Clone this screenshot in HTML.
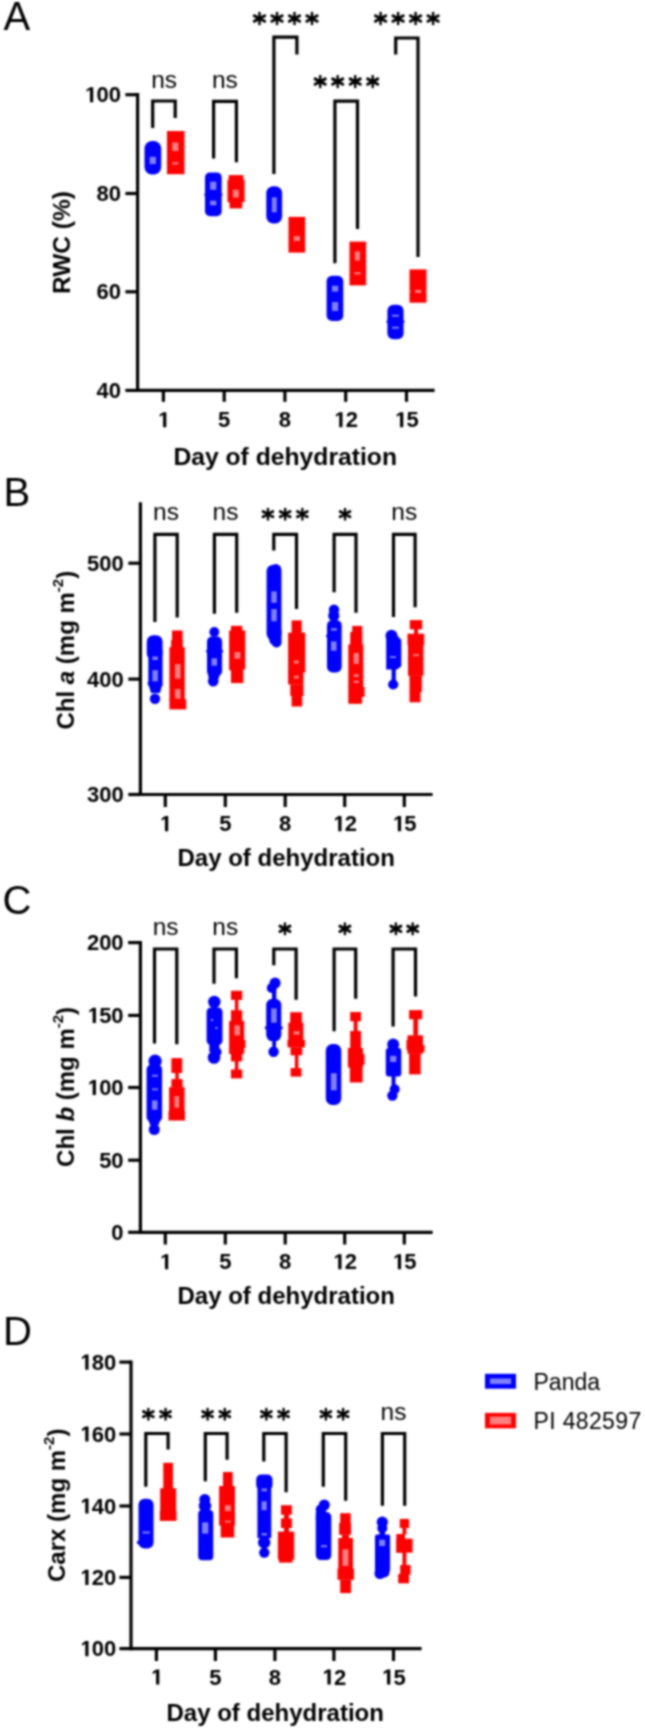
<!DOCTYPE html>
<html><head><meta charset="utf-8"><style>
html,body{margin:0;padding:0;background:#fff;}
svg{display:block;}

text{font-family:"Liberation Sans",sans-serif;fill:#000;}
</style></head><body>
<svg width="645" height="1730" viewBox="0 0 645 1730">
<defs><filter id="soft" filterUnits="userSpaceOnUse" x="0" y="0" width="645" height="1730" color-interpolation-filters="sRGB"><feConvolveMatrix order="5" kernelMatrix="18 82 135 82 18 82 368 607 368 82 135 607 1000 607 135 82 368 607 368 82 18 82 135 82 18" divisor="6168" edgeMode="duplicate"/></filter></defs>
<g filter="url(#soft)"><rect width="645" height="1730" fill="#fff"/>
<line x1="137.6" y1="93.10000000000001" x2="137.6" y2="392.0" stroke="#000" stroke-width="3.2" stroke-linecap="butt"/>
<line x1="137.6" y1="390.4" x2="434.6" y2="390.4" stroke="#000" stroke-width="3.2" stroke-linecap="butt"/>
<line x1="125.4" y1="94.7" x2="137.6" y2="94.7" stroke="#000" stroke-width="3.2" stroke-linecap="butt"/>
<path d="M540,0L840,0L840,1409L575,1409L230,1190L230,975L540,1160Z" fill="#000" transform="translate(84.19,102.3) scale(0.01074,-0.01074)"/>
<text x="96.43" y="102.3" font-size="22" font-weight="bold" text-anchor="start" >0</text>
<text x="108.66" y="102.3" font-size="22" font-weight="bold" text-anchor="start" >0</text>
<line x1="125.4" y1="193.5" x2="137.6" y2="193.5" stroke="#000" stroke-width="3.2" stroke-linecap="butt"/>
<text x="96.43" y="201.1" font-size="22" font-weight="bold" text-anchor="start" >8</text>
<text x="108.66" y="201.1" font-size="22" font-weight="bold" text-anchor="start" >0</text>
<line x1="125.4" y1="291.8" x2="137.6" y2="291.8" stroke="#000" stroke-width="3.2" stroke-linecap="butt"/>
<text x="96.43" y="299.4" font-size="22" font-weight="bold" text-anchor="start" >6</text>
<text x="108.66" y="299.4" font-size="22" font-weight="bold" text-anchor="start" >0</text>
<line x1="125.4" y1="390.4" x2="137.6" y2="390.4" stroke="#000" stroke-width="3.2" stroke-linecap="butt"/>
<text x="96.43" y="398.0" font-size="22" font-weight="bold" text-anchor="start" >4</text>
<text x="108.66" y="398.0" font-size="22" font-weight="bold" text-anchor="start" >0</text>
<line x1="163.4" y1="390.4" x2="163.4" y2="401.8" stroke="#000" stroke-width="3.2" stroke-linecap="butt"/>
<path d="M540,0L840,0L840,1409L575,1409L230,1190L230,975L540,1160Z" fill="#000" transform="translate(157.28,427.3) scale(0.01074,-0.01074)"/>
<line x1="224.2" y1="390.4" x2="224.2" y2="401.8" stroke="#000" stroke-width="3.2" stroke-linecap="butt"/>
<text x="218.08" y="427.3" font-size="22" font-weight="bold" text-anchor="start" >5</text>
<line x1="284.9" y1="390.4" x2="284.9" y2="401.8" stroke="#000" stroke-width="3.2" stroke-linecap="butt"/>
<text x="278.78" y="427.3" font-size="22" font-weight="bold" text-anchor="start" >8</text>
<line x1="345.7" y1="390.4" x2="345.7" y2="401.8" stroke="#000" stroke-width="3.2" stroke-linecap="butt"/>
<path d="M540,0L840,0L840,1409L575,1409L230,1190L230,975L540,1160Z" fill="#000" transform="translate(333.46,427.3) scale(0.01074,-0.01074)"/>
<text x="345.7" y="427.3" font-size="22" font-weight="bold" text-anchor="start" >2</text>
<line x1="406.5" y1="390.4" x2="406.5" y2="401.8" stroke="#000" stroke-width="3.2" stroke-linecap="butt"/>
<path d="M540,0L840,0L840,1409L575,1409L230,1190L230,975L540,1160Z" fill="#000" transform="translate(394.26,427.3) scale(0.01074,-0.01074)"/>
<text x="406.5" y="427.3" font-size="22" font-weight="bold" text-anchor="start" >5</text>
<text x="285.2" y="465.3" font-size="24.7" font-weight="bold" text-anchor="middle" >Day of dehydration</text>
<text x="0" y="0" font-size="24.5" font-weight="bold" text-anchor="middle" transform="translate(69.8,242.6) rotate(-90)">RWC (%)</text>
<text x="3.5" y="30.2" font-size="40" font-weight="normal" text-anchor="start" >A</text>
<text x="164.1" y="87.6" font-size="24.5" font-weight="normal" text-anchor="middle" >ns</text>
<path d="M152.7,128.1V101.0H175.2V118.0" fill="none" stroke="#000" stroke-width="3.2" stroke-linejoin="miter" stroke-linecap="butt"/>
<text x="224.9" y="87.9" font-size="24.5" font-weight="normal" text-anchor="middle" >ns</text>
<path d="M213.6,158.6V101.4H236.4V162.3" fill="none" stroke="#000" stroke-width="3.2" stroke-linejoin="miter" stroke-linecap="butt"/>
<path d="M273.9,173.9V37.2H296.9V54.4" fill="none" stroke="#000" stroke-width="3.2" stroke-linejoin="miter" stroke-linecap="butt"/>
<path d="M259.50,11.90V25.10" stroke="#000" stroke-width="2.43" fill="none"/>
<path d="M254.36,15.77L264.64,21.23M254.36,21.23L264.64,15.77" stroke="#000" stroke-width="3.01" stroke-linecap="round" fill="none"/>
<circle cx="259.50" cy="18.50" r="2.52" fill="#000"/>
<path d="M277.00,11.90V25.10" stroke="#000" stroke-width="2.43" fill="none"/>
<path d="M271.86,15.77L282.14,21.23M271.86,21.23L282.14,15.77" stroke="#000" stroke-width="3.01" stroke-linecap="round" fill="none"/>
<circle cx="277.00" cy="18.50" r="2.52" fill="#000"/>
<path d="M294.50,11.90V25.10" stroke="#000" stroke-width="2.43" fill="none"/>
<path d="M289.36,15.77L299.64,21.23M289.36,21.23L299.64,15.77" stroke="#000" stroke-width="3.01" stroke-linecap="round" fill="none"/>
<circle cx="294.50" cy="18.50" r="2.52" fill="#000"/>
<path d="M312.00,11.90V25.10" stroke="#000" stroke-width="2.43" fill="none"/>
<path d="M306.86,15.77L317.14,21.23M306.86,21.23L317.14,15.77" stroke="#000" stroke-width="3.01" stroke-linecap="round" fill="none"/>
<circle cx="312.00" cy="18.50" r="2.52" fill="#000"/>
<path d="M334.9,263.3V101.2H357.5V228.9" fill="none" stroke="#000" stroke-width="3.2" stroke-linejoin="miter" stroke-linecap="butt"/>
<path d="M320.20,75.10V88.10" stroke="#000" stroke-width="2.39" fill="none"/>
<path d="M315.14,78.91L325.26,84.29M315.14,84.29L325.26,78.91" stroke="#000" stroke-width="2.96" stroke-linecap="round" fill="none"/>
<circle cx="320.20" cy="81.60" r="2.49" fill="#000"/>
<path d="M337.70,75.10V88.10" stroke="#000" stroke-width="2.39" fill="none"/>
<path d="M332.64,78.91L342.76,84.29M332.64,84.29L342.76,78.91" stroke="#000" stroke-width="2.96" stroke-linecap="round" fill="none"/>
<circle cx="337.70" cy="81.60" r="2.49" fill="#000"/>
<path d="M355.20,75.10V88.10" stroke="#000" stroke-width="2.39" fill="none"/>
<path d="M350.14,78.91L360.26,84.29M350.14,84.29L360.26,78.91" stroke="#000" stroke-width="2.96" stroke-linecap="round" fill="none"/>
<circle cx="355.20" cy="81.60" r="2.49" fill="#000"/>
<path d="M372.70,75.10V88.10" stroke="#000" stroke-width="2.39" fill="none"/>
<path d="M367.64,78.91L377.76,84.29M367.64,84.29L377.76,78.91" stroke="#000" stroke-width="2.96" stroke-linecap="round" fill="none"/>
<circle cx="372.70" cy="81.60" r="2.49" fill="#000"/>
<path d="M395.7,54.4V38.0H418.0V256.9" fill="none" stroke="#000" stroke-width="3.2" stroke-linejoin="miter" stroke-linecap="butt"/>
<path d="M380.60,11.90V25.10" stroke="#000" stroke-width="2.43" fill="none"/>
<path d="M375.46,15.77L385.74,21.23M375.46,21.23L385.74,15.77" stroke="#000" stroke-width="3.01" stroke-linecap="round" fill="none"/>
<circle cx="380.60" cy="18.50" r="2.52" fill="#000"/>
<path d="M398.10,11.90V25.10" stroke="#000" stroke-width="2.43" fill="none"/>
<path d="M392.96,15.77L403.24,21.23M392.96,21.23L403.24,15.77" stroke="#000" stroke-width="3.01" stroke-linecap="round" fill="none"/>
<circle cx="398.10" cy="18.50" r="2.52" fill="#000"/>
<path d="M415.60,11.90V25.10" stroke="#000" stroke-width="2.43" fill="none"/>
<path d="M410.46,15.77L420.74,21.23M410.46,21.23L420.74,15.77" stroke="#000" stroke-width="3.01" stroke-linecap="round" fill="none"/>
<circle cx="415.60" cy="18.50" r="2.52" fill="#000"/>
<path d="M433.10,11.90V25.10" stroke="#000" stroke-width="2.43" fill="none"/>
<path d="M427.96,15.77L438.24,21.23M427.96,21.23L438.24,15.77" stroke="#000" stroke-width="3.01" stroke-linecap="round" fill="none"/>
<circle cx="433.10" cy="18.50" r="2.52" fill="#000"/>
<rect x="144.5" y="141" width="16.7" height="33.5" rx="7.5" ry="7.5" fill="#0000ff"/>
<rect x="149.7" y="156.8" width="6.2" height="7.3" rx="0" fill="#8080ff"/>
<rect x="167" y="131" width="17.5" height="43.2" rx="0" fill="#ff0000"/>
<rect x="172.3" y="142.5" width="6.0" height="8.5" rx="0" fill="#ff8080"/>
<rect x="172.3" y="162.2" width="6.0" height="2.3" rx="0" fill="#ff8080"/>
<rect x="205" y="172.4" width="16.7" height="43.8" rx="5" ry="5" fill="#0000ff"/>
<circle cx="205.6" cy="194.8" r="1.4" fill="#0000ff"/>
<circle cx="221.1" cy="194.8" r="1.4" fill="#0000ff"/>
<rect x="210.1" y="181.7" width="6.2" height="8.1" rx="0" fill="#8080ff"/>
<rect x="210.1" y="200.7" width="6.2" height="4.6" rx="0" fill="#8080ff"/>
<rect x="228.7" y="175.1" width="14.7" height="4.9" rx="0" fill="#ff0000"/>
<rect x="227.5" y="179.7" width="17.1" height="22.5" rx="0" fill="#ff0000"/>
<rect x="229.5" y="202" width="12.7" height="6.4" rx="0" fill="#ff0000"/>
<rect x="233" y="189.8" width="5.8" height="7.8" rx="0" fill="#ff8080"/>
<rect x="266.3" y="186.3" width="15.8" height="37.2" rx="7" ry="7" fill="#0000ff"/>
<rect x="271.9" y="197.4" width="4.8" height="14.9" rx="0" fill="#8080ff"/>
<rect x="288.5" y="216.9" width="16.7" height="35.7" rx="0" fill="#ff0000"/>
<rect x="293.8" y="236.2" width="6.2" height="4.8" rx="0" fill="#ff8080"/>
<rect x="326.6" y="275.7" width="16.7" height="45.2" rx="5.5" ry="5.5" fill="#0000ff"/>
<rect x="332" y="285.8" width="6.2" height="5.8" rx="0" fill="#8080ff"/>
<rect x="332" y="302.1" width="6.2" height="8.9" rx="0" fill="#8080ff"/>
<rect x="349.5" y="241.6" width="16.6" height="43.8" rx="0" fill="#ff0000"/>
<rect x="354.9" y="251.3" width="5.0" height="9.3" rx="0" fill="#ff8080"/>
<rect x="354.3" y="272.2" width="6.3" height="2.3" rx="0" fill="#ff8080"/>
<rect x="387.4" y="304.8" width="16.2" height="34.4" rx="6" ry="6" fill="#0000ff"/>
<circle cx="387.7" cy="321.7" r="1.3" fill="#0000ff"/>
<circle cx="403.3" cy="321.7" r="1.3" fill="#0000ff"/>
<rect x="392" y="314.7" width="7" height="2.0" rx="0" fill="#8080ff"/>
<rect x="392" y="326.7" width="7" height="2.0" rx="0" fill="#8080ff"/>
<rect x="409.5" y="269.4" width="17.0" height="33.3" rx="0" fill="#ff0000"/>
<rect x="415.3" y="289.9" width="5.8" height="3.1" rx="0" fill="#ff8080"/>
<rect x="409.5" y="290.5" width="1.1" height="1.8" rx="0" fill="#ff8080"/>
<rect x="425.4" y="290.5" width="1.1" height="1.8" rx="0" fill="#ff8080"/>
<line x1="140.4" y1="502.29999999999995" x2="140.4" y2="796.1" stroke="#000" stroke-width="3.2" stroke-linecap="butt"/>
<line x1="140.4" y1="794.5" x2="432.6" y2="794.5" stroke="#000" stroke-width="3.2" stroke-linecap="butt"/>
<line x1="128.3" y1="563.2" x2="140.4" y2="563.2" stroke="#000" stroke-width="3.2" stroke-linecap="butt"/>
<text x="87.09" y="570.8" font-size="22" font-weight="bold" text-anchor="start" >5</text>
<text x="99.33" y="570.8" font-size="22" font-weight="bold" text-anchor="start" >0</text>
<text x="111.56" y="570.8" font-size="22" font-weight="bold" text-anchor="start" >0</text>
<line x1="128.3" y1="679.1" x2="140.4" y2="679.1" stroke="#000" stroke-width="3.2" stroke-linecap="butt"/>
<text x="87.09" y="686.7" font-size="22" font-weight="bold" text-anchor="start" >4</text>
<text x="99.33" y="686.7" font-size="22" font-weight="bold" text-anchor="start" >0</text>
<text x="111.56" y="686.7" font-size="22" font-weight="bold" text-anchor="start" >0</text>
<line x1="128.3" y1="794.5" x2="140.4" y2="794.5" stroke="#000" stroke-width="3.2" stroke-linecap="butt"/>
<text x="87.09" y="802.1" font-size="22" font-weight="bold" text-anchor="start" >3</text>
<text x="99.33" y="802.1" font-size="22" font-weight="bold" text-anchor="start" >0</text>
<text x="111.56" y="802.1" font-size="22" font-weight="bold" text-anchor="start" >0</text>
<line x1="165.3" y1="794.5" x2="165.3" y2="807" stroke="#000" stroke-width="3.2" stroke-linecap="butt"/>
<path d="M540,0L840,0L840,1409L575,1409L230,1190L230,975L540,1160Z" fill="#000" transform="translate(159.18,831.2) scale(0.01074,-0.01074)"/>
<line x1="225.3" y1="794.5" x2="225.3" y2="807" stroke="#000" stroke-width="3.2" stroke-linecap="butt"/>
<text x="219.18" y="831.2" font-size="22" font-weight="bold" text-anchor="start" >5</text>
<line x1="285.2" y1="794.5" x2="285.2" y2="807" stroke="#000" stroke-width="3.2" stroke-linecap="butt"/>
<text x="279.08" y="831.2" font-size="22" font-weight="bold" text-anchor="start" >8</text>
<line x1="344.7" y1="794.5" x2="344.7" y2="807" stroke="#000" stroke-width="3.2" stroke-linecap="butt"/>
<path d="M540,0L840,0L840,1409L575,1409L230,1190L230,975L540,1160Z" fill="#000" transform="translate(332.46,831.2) scale(0.01074,-0.01074)"/>
<text x="344.7" y="831.2" font-size="22" font-weight="bold" text-anchor="start" >2</text>
<line x1="404.3" y1="794.5" x2="404.3" y2="807" stroke="#000" stroke-width="3.2" stroke-linecap="butt"/>
<path d="M540,0L840,0L840,1409L575,1409L230,1190L230,975L540,1160Z" fill="#000" transform="translate(392.06,831.2) scale(0.01074,-0.01074)"/>
<text x="404.3" y="831.2" font-size="22" font-weight="bold" text-anchor="start" >5</text>
<text x="286.2" y="866.2" font-size="24" font-weight="bold" text-anchor="middle" >Day of dehydration</text>
<text x="0" y="0" font-size="24" font-weight="bold" text-anchor="middle" transform="translate(73.8,650.2) rotate(-90)">Chl <tspan font-style="italic">a</tspan> (mg m<tspan font-size="15" dy="-11">-2</tspan><tspan dy="11">)</tspan></text>
<text x="3.5" y="506" font-size="40" font-weight="normal" text-anchor="start" >B</text>
<path d="M154.9,622.1V534.3H177.2V617.4" fill="none" stroke="#000" stroke-width="3.2" stroke-linejoin="miter" stroke-linecap="butt"/>
<text x="166.05" y="520.0" font-size="24.5" font-weight="normal" text-anchor="middle" >ns</text>
<path d="M214.4,613.7V534.3H236.7V612.8" fill="none" stroke="#000" stroke-width="3.2" stroke-linejoin="miter" stroke-linecap="butt"/>
<text x="225.55" y="520.0" font-size="24.5" font-weight="normal" text-anchor="middle" >ns</text>
<path d="M273.8,550.5V534.3H296.5V609.1" fill="none" stroke="#000" stroke-width="3.2" stroke-linejoin="miter" stroke-linecap="butt"/>
<path d="M267.95,507.90V520.50" stroke="#000" stroke-width="2.32" fill="none"/>
<path d="M263.04,511.59L272.86,516.81M263.04,516.81L272.86,511.59" stroke="#000" stroke-width="2.87" stroke-linecap="round" fill="none"/>
<circle cx="267.95" cy="514.20" r="2.41" fill="#000"/>
<path d="M285.15,507.90V520.50" stroke="#000" stroke-width="2.32" fill="none"/>
<path d="M280.24,511.59L290.06,516.81M280.24,516.81L290.06,511.59" stroke="#000" stroke-width="2.87" stroke-linecap="round" fill="none"/>
<circle cx="285.15" cy="514.20" r="2.41" fill="#000"/>
<path d="M302.35,507.90V520.50" stroke="#000" stroke-width="2.32" fill="none"/>
<path d="M297.44,511.59L307.26,516.81M297.44,516.81L307.26,511.59" stroke="#000" stroke-width="2.87" stroke-linecap="round" fill="none"/>
<circle cx="302.35" cy="514.20" r="2.41" fill="#000"/>
<path d="M334.1,592.3V534.3H356.0V612.8" fill="none" stroke="#000" stroke-width="3.2" stroke-linejoin="miter" stroke-linecap="butt"/>
<path d="M345.05,507.90V520.50" stroke="#000" stroke-width="2.32" fill="none"/>
<path d="M340.14,511.59L349.96,516.81M340.14,516.81L349.96,511.59" stroke="#000" stroke-width="2.87" stroke-linecap="round" fill="none"/>
<circle cx="345.05" cy="514.20" r="2.41" fill="#000"/>
<path d="M393.5,617.0V534.3H415.1V607.2" fill="none" stroke="#000" stroke-width="3.2" stroke-linejoin="miter" stroke-linecap="butt"/>
<text x="404.3" y="520.0" font-size="24.5" font-weight="normal" text-anchor="middle" >ns</text>
<rect x="146.8" y="635.2" width="15.8" height="24.8" rx="6.5" ry="6.5" fill="#0000ff"/>
<rect x="148.3" y="650" width="14.3" height="36" rx="0" fill="#0000ff"/>
<circle cx="149" cy="683" r="1.5" fill="#0000ff"/>
<polygon points="148.3,684 162.4,684 160,693 151,693" fill="#0000ff"/>
<circle cx="155" cy="698.7" r="5.2" fill="#0000ff"/>
<rect x="152.4" y="656.5" width="5.5" height="3.5" rx="0" fill="#8080ff"/>
<rect x="152.4" y="670.2" width="5.5" height="11.1" rx="0" fill="#8080ff"/>
<rect x="172" y="630.5" width="10.6" height="17.5" rx="0" fill="#ff0000"/>
<rect x="171.1" y="640" width="11.5" height="8" rx="0" fill="#ff0000"/>
<rect x="169.4" y="647.2" width="15.4" height="52.8" rx="0" fill="#ff0000"/>
<rect x="169.4" y="699.2" width="16.8" height="10.2" rx="0" fill="#ff0000"/>
<rect x="175" y="664.2" width="5.5" height="14.5" rx="0" fill="#ff8080"/>
<rect x="175" y="689" width="5.5" height="9.7" rx="0" fill="#ff8080"/>
<circle cx="214.3" cy="632" r="4.9" fill="#0000ff"/>
<rect x="207" y="636.6" width="15.1" height="39.4" rx="5" ry="5" fill="#0000ff"/>
<circle cx="207.2" cy="651.3" r="1.3" fill="#0000ff"/>
<circle cx="221.9" cy="651.3" r="1.3" fill="#0000ff"/>
<circle cx="213.2" cy="681.3" r="5.3" fill="#0000ff"/>
<polygon points="207.5,672 221,672 218,680 209,680" fill="#0000ff"/>
<rect x="211.6" y="658.3" width="5.4" height="7.4" rx="0" fill="#8080ff"/>
<rect x="231" y="625.8" width="11.2" height="5.2" rx="0" fill="#ff0000"/>
<rect x="229.1" y="630.4" width="16.2" height="39.1" rx="0" fill="#ff0000"/>
<rect x="231" y="669" width="12.4" height="14.1" rx="0" fill="#ff0000"/>
<rect x="229.6" y="666" width="2.4" height="4.5" rx="0" fill="#ff0000"/>
<rect x="234.5" y="652.1" width="5.8" height="6.6" rx="0" fill="#ff8080"/>
<circle cx="275.6" cy="569.5" r="5.6" fill="#0000ff"/>
<rect x="266.6" y="565" width="14.9" height="75" rx="6" ry="6" fill="#0000ff"/>
<polygon points="266.8,630 281.5,630 281.5,642 277,647.6 270,643" fill="#0000ff"/>
<circle cx="276.5" cy="642.5" r="5" fill="#0000ff"/>
<rect x="271.4" y="591.4" width="5.3" height="11.4" rx="0" fill="#8080ff"/>
<rect x="271.4" y="609" width="5.3" height="12.3" rx="0" fill="#8080ff"/>
<rect x="291.6" y="620.4" width="10.1" height="12.6" rx="0" fill="#ff0000"/>
<rect x="288.1" y="632.7" width="17.2" height="39.8" rx="0" fill="#ff0000"/>
<rect x="288.1" y="672" width="15.4" height="12.5" rx="0" fill="#ff0000"/>
<rect x="290.3" y="684.3" width="13.2" height="11.7" rx="0" fill="#ff0000"/>
<rect x="291.6" y="695.8" width="10.6" height="10.7" rx="0" fill="#ff0000"/>
<rect x="294" y="660.6" width="4.8" height="3.0" rx="0" fill="#ff8080"/>
<rect x="294" y="675.6" width="4.8" height="3.0" rx="0" fill="#ff8080"/>
<circle cx="334" cy="609.8" r="5.2" fill="#0000ff"/>
<circle cx="333.8" cy="615.8" r="5.6" fill="#0000ff"/>
<rect x="327" y="620" width="14.7" height="52.4" rx="5.5" ry="5.5" fill="#0000ff"/>
<circle cx="327.2" cy="636" r="1.3" fill="#0000ff"/>
<rect x="331" y="628.2" width="6" height="2.4" rx="0" fill="#8080ff"/>
<rect x="331" y="641.4" width="5.5" height="9.3" rx="0" fill="#8080ff"/>
<rect x="352.2" y="625.9" width="10.0" height="19.1" rx="0" fill="#ff0000"/>
<rect x="350.2" y="632" width="12.0" height="13" rx="0" fill="#ff0000"/>
<rect x="348.3" y="644.5" width="15.1" height="43.5" rx="0" fill="#ff0000"/>
<rect x="348.3" y="687" width="16.3" height="10" rx="0" fill="#ff0000"/>
<rect x="348.3" y="696.5" width="13.7" height="7.3" rx="0" fill="#ff0000"/>
<rect x="353.7" y="653" width="5.1" height="10.9" rx="0" fill="#ff8080"/>
<rect x="353.7" y="674.2" width="5.1" height="2.8" rx="0" fill="#ff8080"/>
<rect x="353.7" y="680.6" width="5.1" height="2.4" rx="0" fill="#ff8080"/>
<circle cx="391.5" cy="635.8" r="6" fill="#0000ff"/>
<polygon points="386.2,636 392,630 401.3,640 401.3,666.3 397,669.5 386.2,669.5" fill="#0000ff"/>
<line x1="393.7" y1="666" x2="393.7" y2="684" stroke="#0000ff" stroke-width="2.2" stroke-linecap="butt"/>
<line x1="393.7" y1="666" x2="393.7" y2="684" stroke="#0000ff" stroke-width="4.2" stroke-linecap="butt"/>
<circle cx="393.2" cy="684.5" r="5.1" fill="#0000ff"/>
<rect x="390" y="656.2" width="6" height="1.8" rx="0" fill="#8080ff"/>
<rect x="409.8" y="620.1" width="12.4" height="9.2" rx="0" fill="#ff0000"/>
<rect x="414.1" y="628.8" width="3.9" height="5.4" rx="0" fill="#ff0000"/>
<rect x="407.5" y="633.7" width="16.7" height="11.3" rx="0" fill="#ff0000"/>
<rect x="408" y="644.5" width="15.5" height="31.3" rx="0" fill="#ff0000"/>
<rect x="409.5" y="675.5" width="12.4" height="16.5" rx="0" fill="#ff0000"/>
<rect x="409.5" y="691.5" width="11.0" height="10.8" rx="0" fill="#ff0000"/>
<rect x="413" y="654.2" width="6" height="2.0" rx="0" fill="#ff8080"/>
<line x1="140.4" y1="941.0" x2="140.4" y2="1233.8999999999999" stroke="#000" stroke-width="3.2" stroke-linecap="butt"/>
<line x1="140.4" y1="1232.3" x2="432.6" y2="1232.3" stroke="#000" stroke-width="3.2" stroke-linecap="butt"/>
<line x1="128.1" y1="942.6" x2="140.4" y2="942.6" stroke="#000" stroke-width="3.2" stroke-linecap="butt"/>
<text x="86.89" y="950.2" font-size="22" font-weight="bold" text-anchor="start" >2</text>
<text x="99.13" y="950.2" font-size="22" font-weight="bold" text-anchor="start" >0</text>
<text x="111.36" y="950.2" font-size="22" font-weight="bold" text-anchor="start" >0</text>
<line x1="128.1" y1="1015.4" x2="140.4" y2="1015.4" stroke="#000" stroke-width="3.2" stroke-linecap="butt"/>
<path d="M540,0L840,0L840,1409L575,1409L230,1190L230,975L540,1160Z" fill="#000" transform="translate(86.89,1023.0) scale(0.01074,-0.01074)"/>
<text x="99.13" y="1023.0" font-size="22" font-weight="bold" text-anchor="start" >5</text>
<text x="111.36" y="1023.0" font-size="22" font-weight="bold" text-anchor="start" >0</text>
<line x1="128.1" y1="1087.5" x2="140.4" y2="1087.5" stroke="#000" stroke-width="3.2" stroke-linecap="butt"/>
<path d="M540,0L840,0L840,1409L575,1409L230,1190L230,975L540,1160Z" fill="#000" transform="translate(86.89,1095.1) scale(0.01074,-0.01074)"/>
<text x="99.13" y="1095.1" font-size="22" font-weight="bold" text-anchor="start" >0</text>
<text x="111.36" y="1095.1" font-size="22" font-weight="bold" text-anchor="start" >0</text>
<line x1="128.1" y1="1160.2" x2="140.4" y2="1160.2" stroke="#000" stroke-width="3.2" stroke-linecap="butt"/>
<text x="99.13" y="1167.8" font-size="22" font-weight="bold" text-anchor="start" >5</text>
<text x="111.36" y="1167.8" font-size="22" font-weight="bold" text-anchor="start" >0</text>
<line x1="128.1" y1="1232.3" x2="140.4" y2="1232.3" stroke="#000" stroke-width="3.2" stroke-linecap="butt"/>
<text x="111.36" y="1239.9" font-size="22" font-weight="bold" text-anchor="start" >0</text>
<line x1="165.3" y1="1232.3" x2="165.3" y2="1244.5" stroke="#000" stroke-width="3.2" stroke-linecap="butt"/>
<path d="M540,0L840,0L840,1409L575,1409L230,1190L230,975L540,1160Z" fill="#000" transform="translate(159.18,1269.3) scale(0.01074,-0.01074)"/>
<line x1="225.3" y1="1232.3" x2="225.3" y2="1244.5" stroke="#000" stroke-width="3.2" stroke-linecap="butt"/>
<text x="219.18" y="1269.3" font-size="22" font-weight="bold" text-anchor="start" >5</text>
<line x1="285.2" y1="1232.3" x2="285.2" y2="1244.5" stroke="#000" stroke-width="3.2" stroke-linecap="butt"/>
<text x="279.08" y="1269.3" font-size="22" font-weight="bold" text-anchor="start" >8</text>
<line x1="344.7" y1="1232.3" x2="344.7" y2="1244.5" stroke="#000" stroke-width="3.2" stroke-linecap="butt"/>
<path d="M540,0L840,0L840,1409L575,1409L230,1190L230,975L540,1160Z" fill="#000" transform="translate(332.46,1269.3) scale(0.01074,-0.01074)"/>
<text x="344.7" y="1269.3" font-size="22" font-weight="bold" text-anchor="start" >2</text>
<line x1="404.3" y1="1232.3" x2="404.3" y2="1244.5" stroke="#000" stroke-width="3.2" stroke-linecap="butt"/>
<path d="M540,0L840,0L840,1409L575,1409L230,1190L230,975L540,1160Z" fill="#000" transform="translate(392.06,1269.3) scale(0.01074,-0.01074)"/>
<text x="404.3" y="1269.3" font-size="22" font-weight="bold" text-anchor="start" >5</text>
<text x="286.2" y="1304.3" font-size="24" font-weight="bold" text-anchor="middle" >Day of dehydration</text>
<text x="0" y="0" font-size="24" font-weight="bold" text-anchor="middle" transform="translate(73.8,1086.9) rotate(-90)">Chl <tspan font-style="italic">b</tspan> (mg m<tspan font-size="15" dy="-11">-2</tspan><tspan dy="11">)</tspan></text>
<text x="2.5" y="913.5" font-size="40" font-weight="normal" text-anchor="start" >C</text>
<path d="M154.5,1043.4V949.0H176.8V1044.3" fill="none" stroke="#000" stroke-width="3.2" stroke-linejoin="miter" stroke-linecap="butt"/>
<text x="165.65" y="934.5" font-size="24.5" font-weight="normal" text-anchor="middle" >ns</text>
<path d="M214.0,983.8V949.0H236.4V978.3" fill="none" stroke="#000" stroke-width="3.2" stroke-linejoin="miter" stroke-linecap="butt"/>
<text x="225.2" y="934.5" font-size="24.5" font-weight="normal" text-anchor="middle" >ns</text>
<path d="M273.8,965.2V949.0H296.1V999.7" fill="none" stroke="#000" stroke-width="3.2" stroke-linejoin="miter" stroke-linecap="butt"/>
<path d="M284.95,922.40V935.20" stroke="#000" stroke-width="2.35" fill="none"/>
<path d="M279.96,926.15L289.94,931.45M279.96,931.45L289.94,926.15" stroke="#000" stroke-width="2.92" stroke-linecap="round" fill="none"/>
<circle cx="284.95" cy="928.80" r="2.45" fill="#000"/>
<path d="M334.1,1031.3V949.0H355.7V998.7" fill="none" stroke="#000" stroke-width="3.2" stroke-linejoin="miter" stroke-linecap="butt"/>
<path d="M344.90,922.40V935.20" stroke="#000" stroke-width="2.35" fill="none"/>
<path d="M339.91,926.15L349.89,931.45M339.91,931.45L349.89,926.15" stroke="#000" stroke-width="2.92" stroke-linecap="round" fill="none"/>
<circle cx="344.90" cy="928.80" r="2.45" fill="#000"/>
<path d="M393.1,1026.6V949.0H415.5V996.6" fill="none" stroke="#000" stroke-width="3.2" stroke-linejoin="miter" stroke-linecap="butt"/>
<path d="M395.90,922.40V935.20" stroke="#000" stroke-width="2.35" fill="none"/>
<path d="M390.91,926.15L400.89,931.45M390.91,931.45L400.89,926.15" stroke="#000" stroke-width="2.92" stroke-linecap="round" fill="none"/>
<circle cx="395.90" cy="928.80" r="2.45" fill="#000"/>
<path d="M412.70,922.40V935.20" stroke="#000" stroke-width="2.35" fill="none"/>
<path d="M407.71,926.15L417.69,931.45M407.71,931.45L417.69,926.15" stroke="#000" stroke-width="2.92" stroke-linecap="round" fill="none"/>
<circle cx="412.70" cy="928.80" r="2.45" fill="#000"/>
<circle cx="155.1" cy="1061.2" r="6.6" fill="#0000ff"/>
<rect x="146.6" y="1064.5" width="15.5" height="57.5" rx="5" ry="5" fill="#0000ff"/>
<polygon points="148,1118 161,1118 158.5,1125 150,1125" fill="#0000ff"/>
<circle cx="154.3" cy="1129.5" r="5.5" fill="#0000ff"/>
<rect x="152" y="1074.8" width="6" height="1.9" rx="0" fill="#8080ff"/>
<rect x="152" y="1088.4" width="6" height="1.9" rx="0" fill="#8080ff"/>
<rect x="152" y="1100.4" width="5.5" height="9.3" rx="0" fill="#8080ff"/>
<rect x="171.4" y="1058.1" width="10.8" height="14.9" rx="0" fill="#ff0000"/>
<rect x="175.3" y="1072.5" width="3.5" height="7.0" rx="0" fill="#ff0000"/>
<rect x="171.4" y="1079.1" width="11.2" height="8.5" rx="0" fill="#ff0000"/>
<rect x="169.1" y="1087.2" width="15.5" height="24.3" rx="0" fill="#ff0000"/>
<rect x="168.5" y="1111" width="16.5" height="9.5" rx="0" fill="#ff0000"/>
<rect x="174.5" y="1096.1" width="4.6" height="11.7" rx="0" fill="#ff8080"/>
<circle cx="214.3" cy="1002" r="6.2" fill="#0000ff"/>
<rect x="206.6" y="1007.5" width="15.9" height="37.5" rx="4.5" ry="4.5" fill="#0000ff"/>
<rect x="209.3" y="1040" width="10.1" height="12" rx="0" fill="#0000ff"/>
<circle cx="214" cy="1057.5" r="6.3" fill="#0000ff"/>
<circle cx="217.5" cy="1052" r="4" fill="#0000ff"/>
<rect x="210.8" y="1019" width="2.4" height="2" rx="0" fill="#8080ff"/>
<rect x="215.3" y="1027" width="2.4" height="2" rx="0" fill="#8080ff"/>
<rect x="231" y="990.8" width="11.2" height="9.1" rx="0" fill="#ff0000"/>
<rect x="234.9" y="999.5" width="3.5" height="11.0" rx="0" fill="#ff0000"/>
<rect x="231" y="1010.2" width="11.2" height="11.0" rx="0" fill="#ff0000"/>
<rect x="229.1" y="1021" width="15.1" height="33" rx="0" fill="#ff0000"/>
<rect x="243" y="1040" width="2.5" height="8" rx="0" fill="#ff0000"/>
<rect x="231" y="1053.5" width="11.2" height="7.9" rx="0" fill="#ff0000"/>
<rect x="234.9" y="1061" width="3.5" height="9" rx="0" fill="#ff0000"/>
<rect x="231" y="1069.5" width="11.2" height="8.9" rx="0" fill="#ff0000"/>
<rect x="234.5" y="1025.3" width="5.4" height="10.1" rx="0" fill="#ff8080"/>
<circle cx="275.1" cy="983" r="5.5" fill="#0000ff"/>
<circle cx="271.8" cy="988" r="5" fill="#0000ff"/>
<rect x="272" y="990" width="4.3" height="11" rx="0" fill="#0000ff"/>
<rect x="266.2" y="998.7" width="15.1" height="42.6" rx="6.5" ry="6.5" fill="#0000ff"/>
<circle cx="266.2" cy="1027.8" r="1.5" fill="#0000ff"/>
<circle cx="281.3" cy="1027.8" r="1.5" fill="#0000ff"/>
<rect x="272.3" y="1038" width="3.7" height="12" rx="0" fill="#0000ff"/>
<circle cx="273.6" cy="1051.8" r="5.2" fill="#0000ff"/>
<rect x="271.2" y="1008.4" width="5.5" height="14.3" rx="0" fill="#8080ff"/>
<rect x="290.2" y="1012.2" width="11.7" height="10.8" rx="0" fill="#ff0000"/>
<rect x="288.3" y="1022.7" width="15.1" height="24.8" rx="0" fill="#ff0000"/>
<rect x="287.5" y="1039.8" width="17.5" height="7.2" rx="0" fill="#ff0000"/>
<rect x="290.6" y="1047.3" width="11.6" height="8.0" rx="0" fill="#ff0000"/>
<rect x="294.9" y="1055" width="3.5" height="13.5" rx="0" fill="#ff0000"/>
<rect x="290.6" y="1068.1" width="10.9" height="8.5" rx="0" fill="#ff0000"/>
<rect x="293.7" y="1031.2" width="5.8" height="3.5" rx="0" fill="#ff8080"/>
<rect x="325.8" y="1044.1" width="15.5" height="60.9" rx="6.5" ry="6.5" fill="#0000ff"/>
<rect x="330.9" y="1073.2" width="5.8" height="17.1" rx="0" fill="#8080ff"/>
<rect x="350.2" y="1012" width="10.9" height="9.2" rx="0" fill="#ff0000"/>
<rect x="353.7" y="1020.5" width="3.9" height="11.0" rx="0" fill="#ff0000"/>
<rect x="350.2" y="1031" width="10.9" height="17.5" rx="0" fill="#ff0000"/>
<rect x="347.9" y="1048" width="15.1" height="19.5" rx="0" fill="#ff0000"/>
<rect x="362" y="1054" width="2.5" height="11" rx="0" fill="#ff0000"/>
<rect x="349.8" y="1067" width="12.8" height="15.5" rx="0" fill="#ff0000"/>
<circle cx="393.2" cy="1044.6" r="6" fill="#0000ff"/>
<rect x="385.8" y="1048" width="15.5" height="28.4" rx="3" ry="3" fill="#0000ff"/>
<rect x="391.6" y="1075" width="3.9" height="13" rx="0" fill="#0000ff"/>
<circle cx="394.7" cy="1089.3" r="5" fill="#0000ff"/>
<circle cx="392.4" cy="1095.6" r="5.2" fill="#0000ff"/>
<rect x="390.1" y="1055.8" width="6.2" height="6.2" rx="0" fill="#8080ff"/>
<rect x="409.1" y="1010.1" width="13.1" height="9.1" rx="0" fill="#ff0000"/>
<rect x="413.3" y="1018.8" width="4.7" height="16.8" rx="0" fill="#ff0000"/>
<rect x="407.5" y="1035.3" width="15.5" height="18.5" rx="0" fill="#ff0000"/>
<rect x="422" y="1045" width="2.5" height="7" rx="0" fill="#ff0000"/>
<rect x="406.5" y="1040" width="1.5" height="10" rx="0" fill="#ff0000"/>
<rect x="409.1" y="1053.5" width="11.6" height="20.9" rx="0" fill="#ff0000"/>
<line x1="131.0" y1="1360.5" x2="131.0" y2="1650.1999999999998" stroke="#000" stroke-width="3.2" stroke-linecap="butt"/>
<line x1="131.0" y1="1648.6" x2="421.6" y2="1648.6" stroke="#000" stroke-width="3.2" stroke-linecap="butt"/>
<line x1="119.4" y1="1362.1" x2="131.0" y2="1362.1" stroke="#000" stroke-width="3.2" stroke-linecap="butt"/>
<path d="M540,0L840,0L840,1409L575,1409L230,1190L230,975L540,1160Z" fill="#000" transform="translate(79.49,1369.7) scale(0.01074,-0.01074)"/>
<text x="91.73" y="1369.7" font-size="22" font-weight="bold" text-anchor="start" >8</text>
<text x="103.96" y="1369.7" font-size="22" font-weight="bold" text-anchor="start" >0</text>
<line x1="119.4" y1="1434.0" x2="131.0" y2="1434.0" stroke="#000" stroke-width="3.2" stroke-linecap="butt"/>
<path d="M540,0L840,0L840,1409L575,1409L230,1190L230,975L540,1160Z" fill="#000" transform="translate(79.49,1441.6) scale(0.01074,-0.01074)"/>
<text x="91.73" y="1441.6" font-size="22" font-weight="bold" text-anchor="start" >6</text>
<text x="103.96" y="1441.6" font-size="22" font-weight="bold" text-anchor="start" >0</text>
<line x1="119.4" y1="1506.0" x2="131.0" y2="1506.0" stroke="#000" stroke-width="3.2" stroke-linecap="butt"/>
<path d="M540,0L840,0L840,1409L575,1409L230,1190L230,975L540,1160Z" fill="#000" transform="translate(79.49,1513.6) scale(0.01074,-0.01074)"/>
<text x="91.73" y="1513.6" font-size="22" font-weight="bold" text-anchor="start" >4</text>
<text x="103.96" y="1513.6" font-size="22" font-weight="bold" text-anchor="start" >0</text>
<line x1="119.4" y1="1577.4" x2="131.0" y2="1577.4" stroke="#000" stroke-width="3.2" stroke-linecap="butt"/>
<path d="M540,0L840,0L840,1409L575,1409L230,1190L230,975L540,1160Z" fill="#000" transform="translate(79.49,1585.0) scale(0.01074,-0.01074)"/>
<text x="91.73" y="1585.0" font-size="22" font-weight="bold" text-anchor="start" >2</text>
<text x="103.96" y="1585.0" font-size="22" font-weight="bold" text-anchor="start" >0</text>
<line x1="119.4" y1="1648.6" x2="131.0" y2="1648.6" stroke="#000" stroke-width="3.2" stroke-linecap="butt"/>
<path d="M540,0L840,0L840,1409L575,1409L230,1190L230,975L540,1160Z" fill="#000" transform="translate(79.49,1656.2) scale(0.01074,-0.01074)"/>
<text x="91.73" y="1656.2" font-size="22" font-weight="bold" text-anchor="start" >0</text>
<text x="103.96" y="1656.2" font-size="22" font-weight="bold" text-anchor="start" >0</text>
<line x1="156.4" y1="1648.6" x2="156.4" y2="1661" stroke="#000" stroke-width="3.2" stroke-linecap="butt"/>
<path d="M540,0L840,0L840,1409L575,1409L230,1190L230,975L540,1160Z" fill="#000" transform="translate(150.28,1684.6) scale(0.01074,-0.01074)"/>
<line x1="215.4" y1="1648.6" x2="215.4" y2="1661" stroke="#000" stroke-width="3.2" stroke-linecap="butt"/>
<text x="209.28" y="1684.6" font-size="22" font-weight="bold" text-anchor="start" >5</text>
<line x1="274.9" y1="1648.6" x2="274.9" y2="1661" stroke="#000" stroke-width="3.2" stroke-linecap="butt"/>
<text x="268.78" y="1684.6" font-size="22" font-weight="bold" text-anchor="start" >8</text>
<line x1="333.9" y1="1648.6" x2="333.9" y2="1661" stroke="#000" stroke-width="3.2" stroke-linecap="butt"/>
<path d="M540,0L840,0L840,1409L575,1409L230,1190L230,975L540,1160Z" fill="#000" transform="translate(321.66,1684.6) scale(0.01074,-0.01074)"/>
<text x="333.9" y="1684.6" font-size="22" font-weight="bold" text-anchor="start" >2</text>
<line x1="393.5" y1="1648.6" x2="393.5" y2="1661" stroke="#000" stroke-width="3.2" stroke-linecap="butt"/>
<path d="M540,0L840,0L840,1409L575,1409L230,1190L230,975L540,1160Z" fill="#000" transform="translate(381.26,1684.6) scale(0.01074,-0.01074)"/>
<text x="393.5" y="1684.6" font-size="22" font-weight="bold" text-anchor="start" >5</text>
<text x="275.2" y="1720.5" font-size="24" font-weight="bold" text-anchor="middle" >Day of dehydration</text>
<text x="0" y="0" font-size="24" font-weight="bold" text-anchor="middle" transform="translate(65,1505.3) rotate(-90)">Carx (mg m<tspan font-size="15" dy="-11">-2</tspan><tspan dy="11">)</tspan></text>
<text x="3.0" y="1344.7" font-size="40" font-weight="normal" text-anchor="start" >D</text>
<path d="M145.8,1486.7V1433.5H168.1V1449.5" fill="none" stroke="#000" stroke-width="3.2" stroke-linejoin="miter" stroke-linecap="butt"/>
<path d="M148.35,1407.90V1420.50" stroke="#000" stroke-width="2.32" fill="none"/>
<path d="M143.44,1411.59L153.26,1416.81M143.44,1416.81L153.26,1411.59" stroke="#000" stroke-width="2.87" stroke-linecap="round" fill="none"/>
<circle cx="148.35" cy="1414.20" r="2.41" fill="#000"/>
<path d="M165.55,1407.90V1420.50" stroke="#000" stroke-width="2.32" fill="none"/>
<path d="M160.64,1411.59L170.46,1416.81M160.64,1416.81L170.46,1411.59" stroke="#000" stroke-width="2.87" stroke-linecap="round" fill="none"/>
<circle cx="165.55" cy="1414.20" r="2.41" fill="#000"/>
<path d="M205.3,1481.2V1433.5H227.1V1459.8" fill="none" stroke="#000" stroke-width="3.2" stroke-linejoin="miter" stroke-linecap="butt"/>
<path d="M207.60,1407.90V1420.50" stroke="#000" stroke-width="2.32" fill="none"/>
<path d="M202.69,1411.59L212.51,1416.81M202.69,1416.81L212.51,1411.59" stroke="#000" stroke-width="2.87" stroke-linecap="round" fill="none"/>
<circle cx="207.60" cy="1414.20" r="2.41" fill="#000"/>
<path d="M224.80,1407.90V1420.50" stroke="#000" stroke-width="2.32" fill="none"/>
<path d="M219.89,1411.59L229.71,1416.81M219.89,1416.81L229.71,1411.59" stroke="#000" stroke-width="2.87" stroke-linecap="round" fill="none"/>
<circle cx="224.80" cy="1414.20" r="2.41" fill="#000"/>
<path d="M263.8,1461.6V1433.5H286.1V1492.3" fill="none" stroke="#000" stroke-width="3.2" stroke-linejoin="miter" stroke-linecap="butt"/>
<path d="M266.35,1407.90V1420.50" stroke="#000" stroke-width="2.32" fill="none"/>
<path d="M261.44,1411.59L271.26,1416.81M261.44,1416.81L271.26,1411.59" stroke="#000" stroke-width="2.87" stroke-linecap="round" fill="none"/>
<circle cx="266.35" cy="1414.20" r="2.41" fill="#000"/>
<path d="M283.55,1407.90V1420.50" stroke="#000" stroke-width="2.32" fill="none"/>
<path d="M278.64,1411.59L288.46,1416.81M278.64,1416.81L288.46,1411.59" stroke="#000" stroke-width="2.87" stroke-linecap="round" fill="none"/>
<circle cx="283.55" cy="1414.20" r="2.41" fill="#000"/>
<path d="M323.3,1486.7V1433.5H345.7V1500.7" fill="none" stroke="#000" stroke-width="3.2" stroke-linejoin="miter" stroke-linecap="butt"/>
<path d="M325.90,1407.90V1420.50" stroke="#000" stroke-width="2.32" fill="none"/>
<path d="M320.99,1411.59L330.81,1416.81M320.99,1416.81L330.81,1411.59" stroke="#000" stroke-width="2.87" stroke-linecap="round" fill="none"/>
<circle cx="325.90" cy="1414.20" r="2.41" fill="#000"/>
<path d="M343.10,1407.90V1420.50" stroke="#000" stroke-width="2.32" fill="none"/>
<path d="M338.19,1411.59L348.01,1416.81M338.19,1416.81L348.01,1411.59" stroke="#000" stroke-width="2.87" stroke-linecap="round" fill="none"/>
<circle cx="343.10" cy="1414.20" r="2.41" fill="#000"/>
<path d="M382.4,1505.8V1433.5H404.7V1505.8" fill="none" stroke="#000" stroke-width="3.2" stroke-linejoin="miter" stroke-linecap="butt"/>
<text x="393.54999999999995" y="1420.0" font-size="24.5" font-weight="normal" text-anchor="middle" >ns</text>
<rect x="138.5" y="1498.8" width="15.1" height="49.6" rx="6" ry="6" fill="#0000ff"/>
<circle cx="138.6" cy="1542.6" r="1.8" fill="#0000ff"/>
<rect x="142.5" y="1531.5" width="7.5" height="2.0" rx="0" fill="#8080ff"/>
<rect x="163.3" y="1462.8" width="9.7" height="26.2" rx="0" fill="#ff0000"/>
<rect x="160.2" y="1488.3" width="15.9" height="22.7" rx="0" fill="#ff0000"/>
<rect x="159.8" y="1510.8" width="16.7" height="10.1" rx="0" fill="#ff0000"/>
<circle cx="204.8" cy="1499.5" r="5.5" fill="#0000ff"/>
<circle cx="205" cy="1506" r="6.2" fill="#0000ff"/>
<rect x="198.2" y="1510" width="15.1" height="50.3" rx="4" ry="4" fill="#0000ff"/>
<rect x="202.1" y="1522.4" width="6.2" height="11.2" rx="0" fill="#8080ff"/>
<rect x="223" y="1472" width="9.7" height="14" rx="0" fill="#ff0000"/>
<rect x="219.1" y="1486" width="15.9" height="39.5" rx="0" fill="#ff0000"/>
<rect x="220.7" y="1525" width="13.5" height="12.5" rx="0" fill="#ff0000"/>
<rect x="225" y="1505.3" width="5.8" height="5.8" rx="0" fill="#ff8080"/>
<rect x="225" y="1520.6" width="5.8" height="2.0" rx="0" fill="#ff8080"/>
<rect x="256.2" y="1474.6" width="16.3" height="15.4" rx="5" ry="5" fill="#0000ff"/>
<rect x="257.4" y="1482" width="13.9" height="56" rx="0" fill="#0000ff"/>
<circle cx="264.2" cy="1542.4" r="6.2" fill="#0000ff"/>
<circle cx="264.3" cy="1552.6" r="5.2" fill="#0000ff"/>
<rect x="261.6" y="1488.5" width="5.4" height="2.8" rx="0" fill="#8080ff"/>
<rect x="261.6" y="1501.3" width="5.1" height="8.9" rx="0" fill="#8080ff"/>
<rect x="261.6" y="1533.1" width="5.4" height="2.3" rx="0" fill="#8080ff"/>
<rect x="281" y="1505.2" width="10.9" height="9.5" rx="0" fill="#ff0000"/>
<rect x="284" y="1514" width="5" height="5" rx="0" fill="#ff0000"/>
<rect x="281" y="1518.4" width="10.9" height="9.6" rx="0" fill="#ff0000"/>
<rect x="284" y="1527.5" width="5" height="4.5" rx="0" fill="#ff0000"/>
<rect x="277.9" y="1531.6" width="16.3" height="27.9" rx="0" fill="#ff0000"/>
<rect x="279" y="1559" width="13.5" height="3.6" rx="0" fill="#ff0000"/>
<circle cx="324.3" cy="1505" r="5.5" fill="#0000ff"/>
<circle cx="321" cy="1509.5" r="5.3" fill="#0000ff"/>
<rect x="315.8" y="1512" width="15.5" height="48.1" rx="5" ry="5" fill="#0000ff"/>
<rect x="315.8" y="1512" width="9.2" height="8" rx="0" fill="#0000ff"/>
<rect x="321" y="1545.2" width="6" height="2.0" rx="0" fill="#8080ff"/>
<rect x="340.2" y="1513.2" width="10.5" height="10.0" rx="0" fill="#ff0000"/>
<rect x="339.1" y="1522.9" width="12.0" height="11.9" rx="0" fill="#ff0000"/>
<rect x="342" y="1534.5" width="7" height="4.0" rx="0" fill="#ff0000"/>
<rect x="338.3" y="1538" width="14.7" height="31" rx="0" fill="#ff0000"/>
<rect x="337.5" y="1568.6" width="16.5" height="11.2" rx="0" fill="#ff0000"/>
<rect x="340.2" y="1579.5" width="10.9" height="13.6" rx="0" fill="#ff0000"/>
<rect x="342.6" y="1549.3" width="5.8" height="16.6" rx="0" fill="#ff8080"/>
<circle cx="382.3" cy="1522.2" r="5.6" fill="#0000ff"/>
<circle cx="382.3" cy="1528.2" r="5" fill="#0000ff"/>
<rect x="379.5" y="1529" width="5.5" height="6" rx="0" fill="#0000ff"/>
<rect x="375" y="1534.4" width="15.1" height="37.6" rx="2" ry="2" fill="#0000ff"/>
<circle cx="380" cy="1573.5" r="5.5" fill="#0000ff"/>
<circle cx="384.5" cy="1572.5" r="5" fill="#0000ff"/>
<rect x="379.2" y="1539.8" width="5.9" height="6.2" rx="0" fill="#8080ff"/>
<rect x="399.8" y="1518.9" width="9.3" height="9.1" rx="0" fill="#ff0000"/>
<rect x="402.5" y="1527.5" width="3.9" height="7.0" rx="0" fill="#ff0000"/>
<rect x="396.3" y="1534" width="8.7" height="18.6" rx="0" fill="#ff0000"/>
<rect x="396.3" y="1538.7" width="16.3" height="13.9" rx="0" fill="#ff0000"/>
<rect x="402.5" y="1552" width="3.9" height="13.5" rx="0" fill="#ff0000"/>
<rect x="400.2" y="1565" width="10.4" height="9.5" rx="0" fill="#ff0000"/>
<rect x="398.2" y="1574" width="10.9" height="9.3" rx="0" fill="#ff0000"/>
<rect x="485" y="1373.8" width="31" height="14.9" rx="0" fill="#0000ff"/>
<rect x="489.9" y="1378.5" width="21.2" height="5.6" rx="0" fill="#8080ff"/>
<rect x="485" y="1412.9" width="31" height="15.4" rx="0" fill="#ff0000"/>
<rect x="489.9" y="1416.6" width="21.2" height="7.9" rx="0" fill="#ff8080"/>
<text x="533.5" y="1390.2" font-size="23" font-weight="normal" text-anchor="start" >Panda</text>
<text x="533.5" y="1428.6" font-size="23" font-weight="normal" text-anchor="start" letter-spacing="0.35">PI 482597</text></g>
</svg></body></html>
